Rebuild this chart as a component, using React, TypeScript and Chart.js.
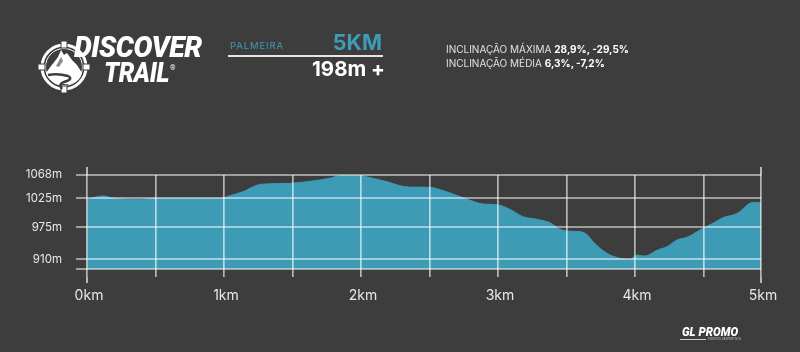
import React, { useEffect, useRef } from "react";
import { Chart, registerables } from "chart.js";

Chart.register(...registerables);

// ---- data ----
const distanceKm = [
  0.0, 0.117, 0.19, 0.387, 0.482, 0.7, 0.971, 1.044, 1.139, 1.241, 1.285, 1.482, 1.65, 1.774, 1.847,
  1.993, 2.066, 2.19, 2.285, 2.358, 2.504, 2.599, 2.774, 2.891, 2.993, 3.088, 3.182, 3.285, 3.38,
  3.453, 3.504, 3.599, 3.65, 3.693, 3.745, 3.818, 3.891, 3.964, 4.015, 4.073, 4.161, 4.234, 4.307,
  4.38, 4.423, 4.496, 4.569, 4.642, 4.715, 4.766, 4.818, 4.861, 4.92,
];
const elevationM = [
  1023.5, 1030, 1026, 1023, 1025.5, 1025.5, 1025.5, 1030.5, 1038, 1050, 1052, 1053.5, 1058, 1063, 1067.7,
  1067.7, 1064, 1056.5, 1049, 1046.5, 1046, 1040, 1024, 1015, 1013.7, 1005, 991.5, 986.5, 980,
  968, 964.7, 963.5, 958, 945, 932.5, 920, 914, 912, 920, 918, 929, 935.5, 948,
  953, 958.6, 969.7, 979, 989.5, 994.5, 1000.7, 1013, 1018, 1018,
];
const xGridKm = [0, 0.5, 1, 1.5, 2, 2.5, 3, 3.5, 4, 4.5, 4.92];
const xTickLabels = ["0km", "", "1km", "", "2km", "", "3km", "", "4km", "", "5km"];
const yGridM = [894, 912, 971.6, 1025.6, 1069];
const yTickLabels = ["", "910m", "975m", "1025m", "1068m"];

const title = "PALMEIRA";
const distanceLabel = "5KM";
const gainLabel = "198m +";
const maxSlopeLabel = "INCLINAÇÃO MÁXIMA";
const maxSlopeValue = "28,9%, -29,5%";
const avgSlopeLabel = "INCLINAÇÃO MÉDIA";
const avgSlopeValue = "6,3%, -7,2%";

const BG = "#3d3d3d";
const TEAL = "#3d9bb6";
const FONT = "Inter, 'Open Sans', sans-serif";

const edgeLines = {
  id: "edgeLines",
  afterDraw(chart: any) {
    const { ctx, chartArea, scales } = chart;
    const xs = scales.x;
    ctx.save();
    ctx.strokeStyle = "rgba(255,255,255,0.62)";
    ctx.lineWidth = 2;
    [xs.min, xs.max].forEach((v: number) => {
      const px = Math.round(xs.getPixelForValue(v));
      ctx.beginPath();
      ctx.moveTo(px, chartArea.top - 8);
      ctx.lineTo(px, chartArea.top);
      ctx.moveTo(px, chartArea.bottom + 8);
      ctx.lineTo(px, chartArea.bottom + 14);
      ctx.stroke();
    });
    ctx.restore();
  },
};

function ProfileChart() {
  const ref = useRef<HTMLCanvasElement>(null);
  useEffect(() => {
    if (!ref.current) return;
    const chart = new Chart(ref.current, {
      type: "line",
      data: {
        datasets: [
          {
            data: distanceKm.map((x, i) => ({ x, y: elevationM[i] })),
            fill: "start",
            backgroundColor: TEAL,
            borderColor: TEAL,
            borderWidth: 1,
            pointRadius: 0,
            tension: 0.4,
            cubicInterpolationMode: "monotone",
          } as any,
        ],
      },
      options: {
        responsive: false,
        animation: false,
        devicePixelRatio: 1,
        layout: { padding: { top: 175, right: 39, left: 0, bottom: 0 } },
        plugins: { legend: { display: false }, tooltip: { enabled: false } },
        scales: {
          x: {
            type: "linear",
            min: 0,
            max: 4.92,
            afterBuildTicks: (s: any) => {
              s.ticks = xGridKm.map((v) => ({ value: v }));
            },
            afterFit: (s: any) => {
              s.height = 83;
            },
            ticks: {
              autoSkip: false,
              maxRotation: 0,
              padding: 10,
              labelOffset: 2,
              color: "#e8e8e8",
              font: { family: FONT, size: 14 },
              callback: (_v: any, i: number) => xTickLabels[i],
            },
            grid: { color: "rgba(255,255,255,0.62)", lineWidth: 1.7, tickLength: 8, z: 1 },
            border: { display: false },
          },
          y: {
            type: "linear",
            min: 894,
            max: 1069,
            afterBuildTicks: (s: any) => {
              s.ticks = yGridM.map((v) => ({ value: v }));
            },
            afterFit: (s: any) => {
              s.width = 87;
            },
            ticks: {
              autoSkip: false,
              padding: 14,
              color: "#e8e8e8",
              font: { family: FONT, size: 11.5 },
              callback: (_v: any, i: number) => yTickLabels[i],
            },
            grid: { color: "rgba(255,255,255,0.5)", lineWidth: 2, tickLength: 11, z: 1 },
            border: { display: false },
          },
        },
      } as any,
      plugins: [edgeLines],
    });
    return () => chart.destroy();
  }, []);
  return (
    <canvas
      ref={ref}
      width={800}
      height={352}
      style={{ position: "absolute", left: 0, top: 0, width: 800, height: 352 }}
    />
  );
}

function Txt(props: {
  x?: number;
  right?: number;
  capTop: number;
  size: number;
  children: React.ReactNode;
  style?: React.CSSProperties;
}) {
  const { x, right, capTop, size, children, style } = props;
  const pos: React.CSSProperties =
    right !== undefined ? { right: 800 - right } : { left: x };
  return (
    <div
      style={{
        position: "absolute",
        top: capTop - 0.135 * size,
        fontSize: size,
        lineHeight: 1,
        whiteSpace: "nowrap",
        fontFamily: FONT,
        ...pos,
        ...style,
      }}
    >
      {children}
    </div>
  );
}

function LogoIcon() {
  return (
    <svg
      width={60}
      height={60}
      viewBox="0 0 60 60"
      style={{ position: "absolute", left: 34, top: 37 }}
    >
      <circle cx={30} cy={30} r={22} fill="none" stroke="#fff" strokeWidth={3} />
      <circle cx={30} cy={30} r={18.5} fill="none" stroke="#fff" strokeWidth={1} />
      <rect x={27} y={4} width={6} height={7} fill="#fff" stroke={BG} strokeWidth={1} />
      <rect x={27} y={49} width={6} height={7} fill="#fff" stroke={BG} strokeWidth={1} />
      <rect x={4} y={27} width={7} height={6} fill="#fff" stroke={BG} strokeWidth={1} />
      <rect x={49} y={27} width={7} height={6} fill="#fff" stroke={BG} strokeWidth={1} />
      <path
        d="M12,36 L17,29 L21,24 L24,20 L27,13 L30,18 L33,16 L38,23 L43,28 L48,36 Q46,44 38,47 L22,47 Q14,43 12,36 Z"
        fill="#fff"
      />
      <path d="M22,29 L27,20 L29,24 L25,30 Z" fill={BG} opacity={0.6} />
      <path
        d="M14,38 Q24,36 34,39 Q40,42 30,45 Q24,47 28,52"
        fill="none"
        stroke={BG}
        strokeWidth={2.5}
      />
    </svg>
  );
}

function Header() {
  return (
    <>
      <LogoIcon />
      <Txt x={74} capTop={37} size={29.5} style={{ color: "#fff", fontWeight: 900, fontStyle: "italic", fontFamily: "Roboto, sans-serif", transform: "scaleX(0.96)", transformOrigin: "left top", letterSpacing: -0.5 }}>
        DISCOVER
      </Txt>
      <Txt x={104} capTop={63} size={28} style={{ color: "#fff", fontWeight: 900, fontStyle: "italic", fontFamily: "Roboto, sans-serif", transform: "scaleX(0.88)", transformOrigin: "left top", letterSpacing: -0.5 }}>
        TRAIL
      </Txt>
      <Txt x={170} capTop={66} size={7} style={{ color: "#fff", fontFamily: "Roboto, sans-serif" }}>
        ®
      </Txt>

      <Txt x={230} capTop={42.5} size={9.5} style={{ color: TEAL, letterSpacing: 0.9 }}>
        {title}
      </Txt>
      <Txt right={382} capTop={35} size={21.5} style={{ color: TEAL, fontWeight: 700 }}>
        {distanceLabel}
      </Txt>
      <div style={{ position: "absolute", left: 228, top: 55, width: 155, height: 2, background: "#e6e6e6" }} />
      <Txt right={385} capTop={61.5} size={20.5} style={{ color: "#fff", fontWeight: 700 }}>
        {gainLabel}
      </Txt>

      <Txt x={446} capTop={45} size={10} style={{ color: "#e0e0e0" }}>
        {maxSlopeLabel} <span style={{ fontWeight: 700, color: "#fff" }}>{maxSlopeValue}</span>
      </Txt>
      <Txt x={446} capTop={59.5} size={10} style={{ color: "#e0e0e0" }}>
        {avgSlopeLabel} <span style={{ fontWeight: 700, color: "#fff" }}>{avgSlopeValue}</span>
      </Txt>

      <Txt x={682} capTop={327} size={13.5} style={{ color: "#fff", fontWeight: 900, fontStyle: "italic", fontFamily: "Roboto, sans-serif", transform: "scaleX(0.85)", transformOrigin: "left top" }}>
        GL PROMO
      </Txt>
      <div style={{ position: "absolute", left: 680, top: 339, width: 26, height: 1, background: "#ccc" }} />
      <Txt x={708} capTop={338} size={3} style={{ color: "#bbb", fontFamily: "Roboto, sans-serif" }}>
        EVENTOS DESPORTIVOS
      </Txt>
    </>
  );
}

export default function App() {
  return (
    <div
      style={{
        position: "fixed",
        left: 0,
        top: 0,
        width: 800,
        height: 352,
        background: BG,
        overflow: "hidden",
      }}
    >
      <ProfileChart />
      <Header />
    </div>
  );
}
